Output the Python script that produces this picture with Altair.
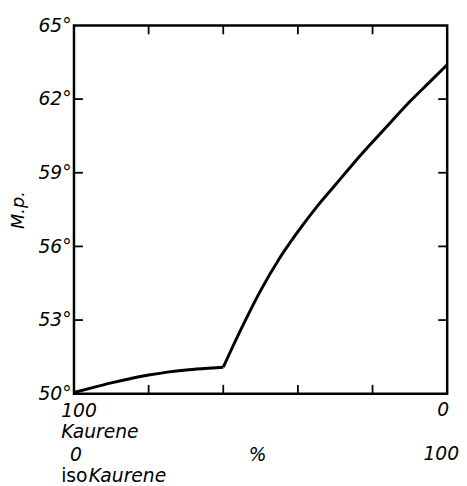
import altair as alt
import pandas as pd

# Data: x = isoKaurene %, y = melting point (°C)
iso_pct = [0, 5, 10, 15, 20, 25, 30, 35, 40, 42, 45, 50, 55, 60, 65, 70, 75, 80, 85, 90, 95, 100]
mp = [50.05, 50.25, 50.44, 50.61, 50.76, 50.88, 50.97, 51.03, 51.08, 51.74, 52.7, 54.2,
      55.5, 56.6, 57.6, 58.5, 59.4, 60.25, 61.08, 61.9, 62.65, 63.4]
kink = 40
x_ticks = [20, 40, 60, 80]
y_ticks = [53, 56, 59, 62]
y_labels = [50, 53, 56, 59, 62, 65]

W, H = 379, 374
FONT = "DejaVu Sans"

df = pd.DataFrame({"iso": iso_pct, "mp": mp})
xs = alt.Scale(domain=[0, 100], nice=False, zero=False)
ys = alt.Scale(domain=[50, 65], nice=False, zero=False)

yaxis = alt.Axis(
    values=y_labels, labelExpr="datum.value + '°'", ticks=False, domain=False, grid=False,
    labelFont=FONT, labelFontSize=19, labelFontStyle="italic", labelFontWeight="normal",
    labelColor="black", labelPadding=3, title="M.p.", titleFont=FONT, titleFontSize=18,
    titleFontStyle="italic", titleFontWeight="normal", titleColor="black",
    titleX=-56, titleY=H / 2, titleAlign="center", titleBaseline="middle", titleAngle=-90)

base = alt.Chart(df)
line1 = base.transform_filter(alt.datum.iso <= kink).mark_line(
    color="black", strokeWidth=3, interpolate="monotone").encode(
    x=alt.X("iso:Q", scale=xs, axis=None),
    y=alt.Y("mp:Q", scale=ys, axis=yaxis),
)
line2 = base.transform_filter(alt.datum.iso >= kink).mark_line(
    color="black", strokeWidth=3, interpolate="monotone").encode(
    x=alt.X("iso:Q", scale=xs, axis=None),
    y=alt.Y("mp:Q", scale=ys),
)

tx = pd.DataFrame({"t": x_ticks})
ty = pd.DataFrame({"t": y_ticks})
tl = 2.4   # tick length in x units
tly = 0.36  # tick length in y units

bottom_ticks = alt.Chart(tx).mark_rule(color="black", strokeWidth=1.8).encode(
    x=alt.X("t:Q", scale=xs), y=alt.datum(50, scale=ys), y2=alt.datum(50 + tly))
top_ticks = alt.Chart(tx).mark_rule(color="black", strokeWidth=1.8).encode(
    x=alt.X("t:Q", scale=xs), y=alt.datum(65, scale=ys), y2=alt.datum(65 - tly))
left_ticks = alt.Chart(ty).mark_rule(color="black", strokeWidth=1.8).encode(
    y=alt.Y("t:Q", scale=ys), x=alt.datum(0, scale=xs), x2=alt.datum(tl))
right_ticks = alt.Chart(ty).mark_rule(color="black", strokeWidth=1.8).encode(
    y=alt.Y("t:Q", scale=ys), x=alt.datum(100, scale=xs), x2=alt.datum(100 - tl))


def label(text, xval, align, dx, dy, italic=True):
    return alt.Chart(pd.DataFrame({"a": [0]})).mark_text(
        text=text, align=align, baseline="middle", dx=dx, dy=dy, font=FONT, fontSize=19,
        fontStyle="italic" if italic else "normal", color="black").encode(
        x=alt.datum(xval, scale=xs), y=alt.datum(50, scale=ys))


labels = [
    label("100", 0, "left", -13, 18),
    label("Kaurene", 0, "left", -13, 39),
    label("0", 0, "center", 2, 62),
    label("iso", 0, "left", -13, 84, italic=False),
    label("Kaurene", 0, "left", 15, 84),
    label("%", 50, "center", -3, 62),
    label("0", 100, "center", -4, 17),
    label("100", 100, "center", -6, 61),
]

chart = alt.layer(line1, line2, bottom_ticks, top_ticks, left_ticks, right_ticks, *labels).properties(
    width=W, height=H,
    background="white",
    autosize=alt.AutoSizeParams(type="none"),
    padding={"left": 67, "top": 14, "right": 12, "bottom": 90},
).configure_view(stroke="black", strokeWidth=2.5)

chart.save("out.html", embed_options={"renderer": "svg", "actions": False})
